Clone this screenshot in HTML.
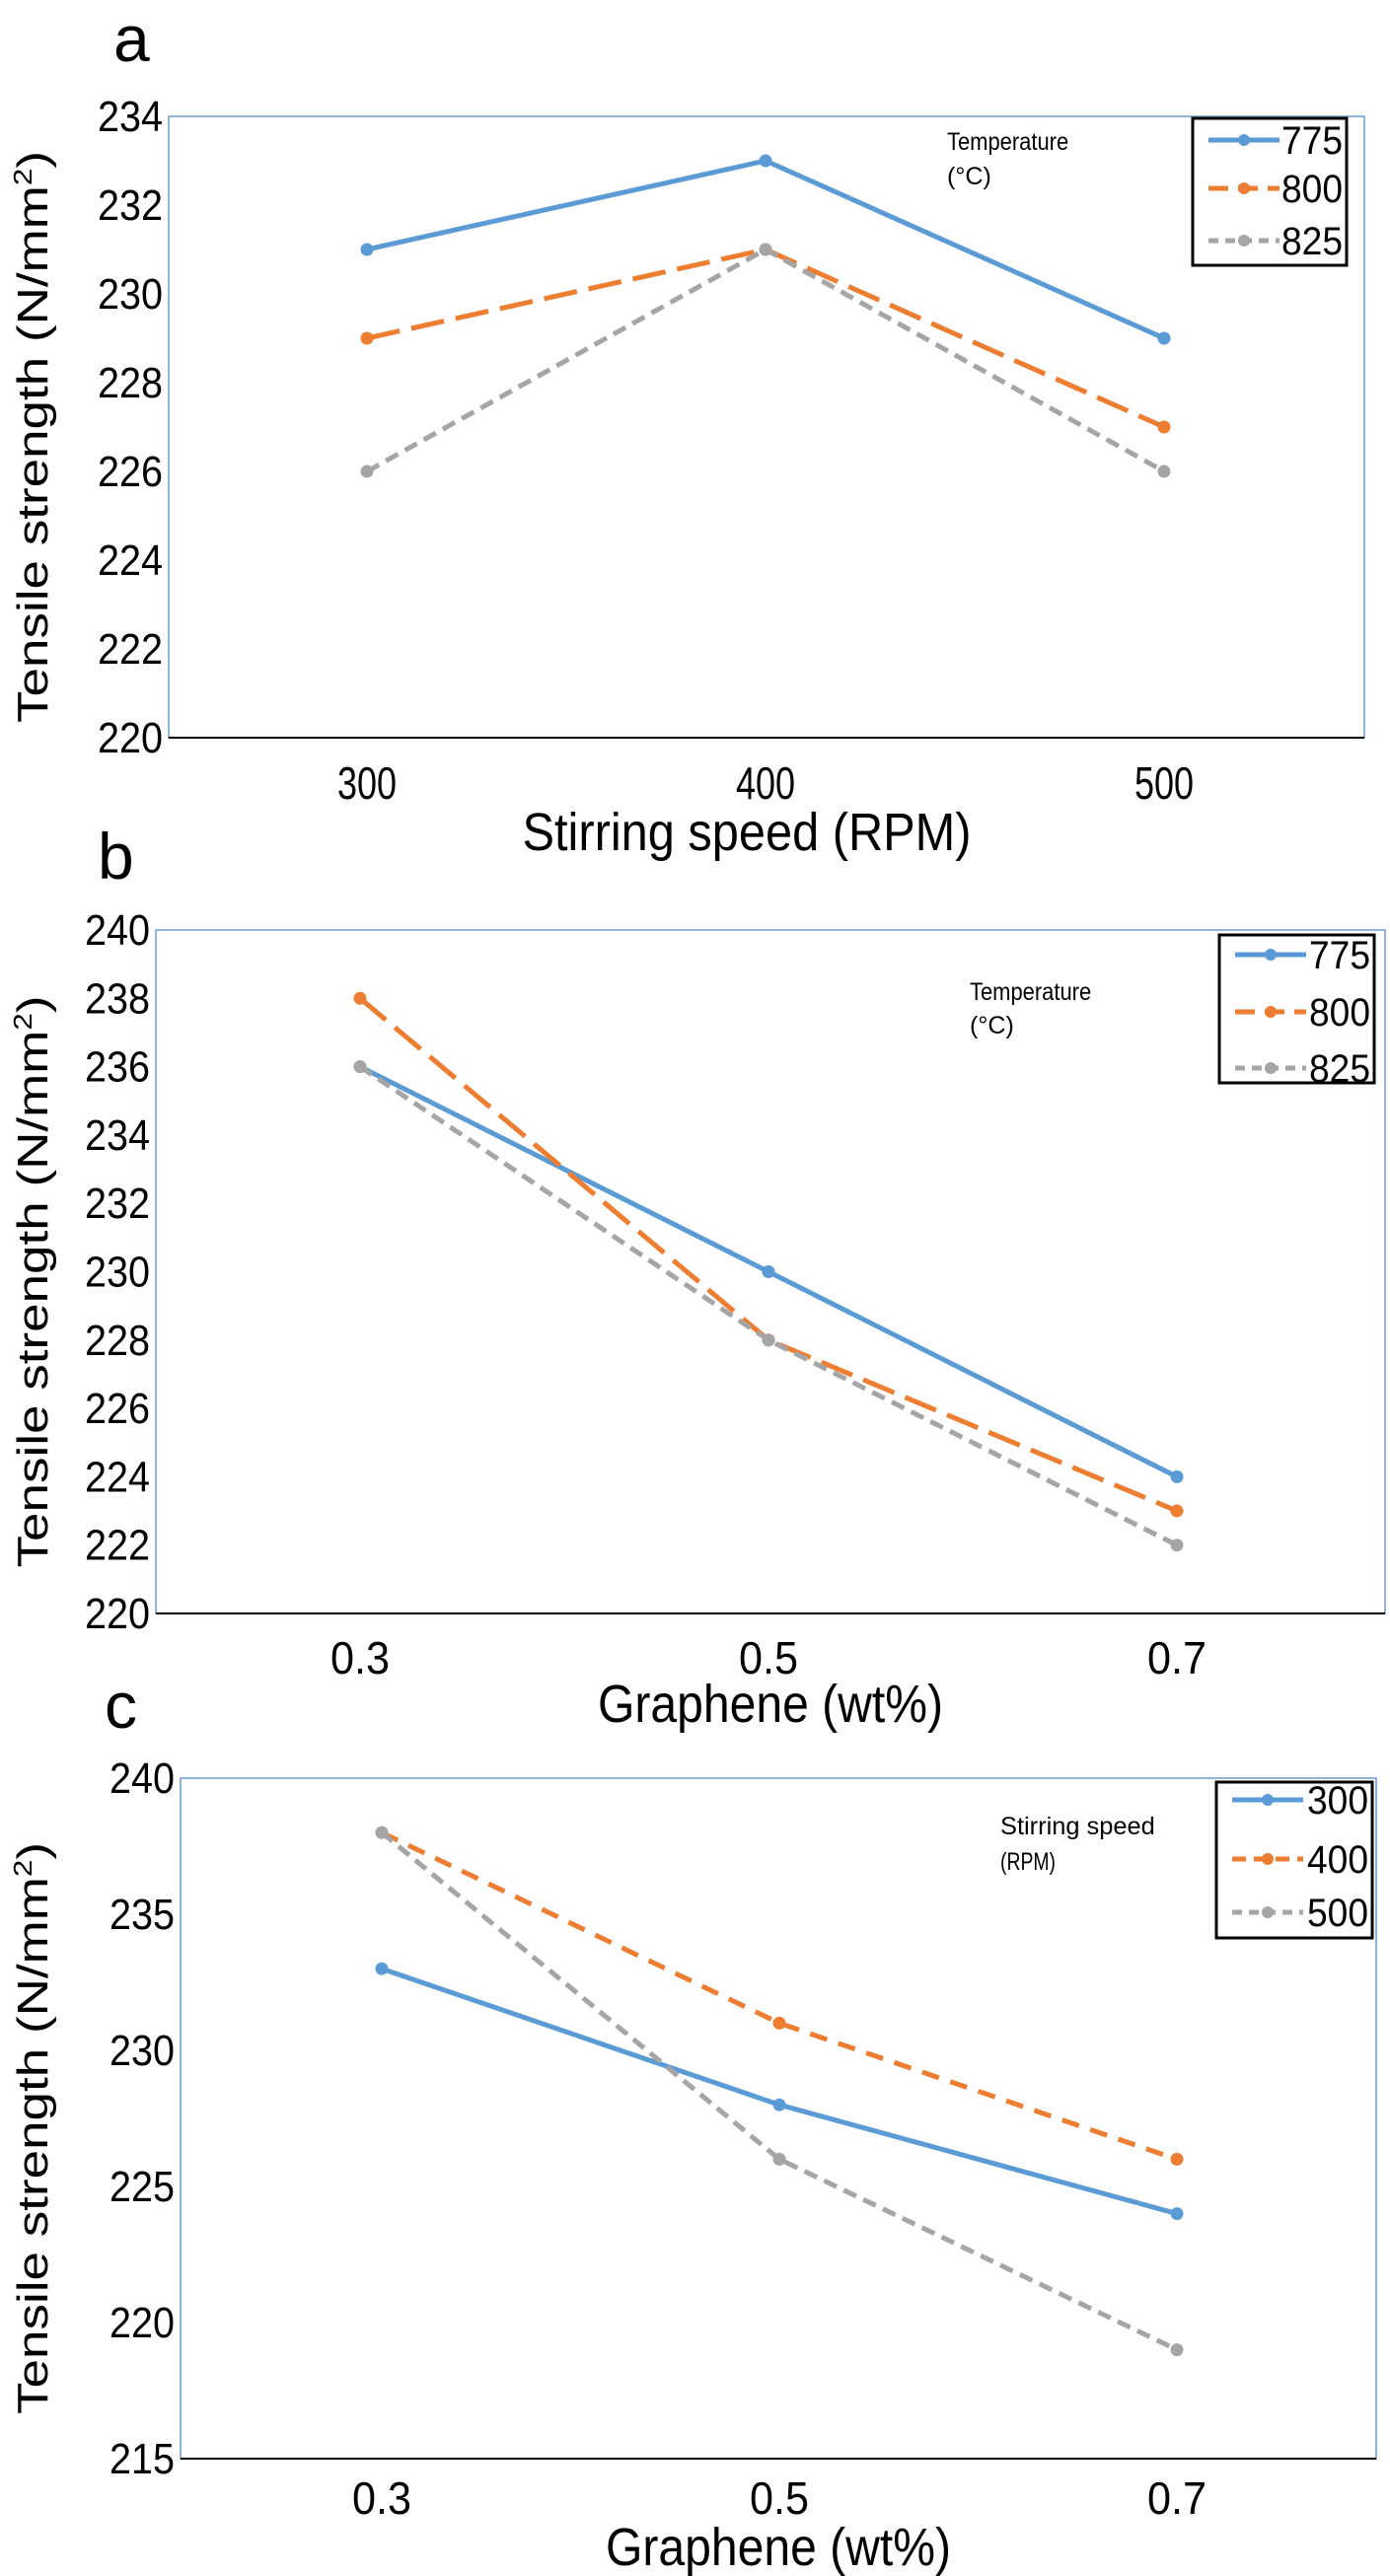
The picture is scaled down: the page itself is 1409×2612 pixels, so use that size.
<!DOCTYPE html>
<html><head><meta charset="utf-8"><style>
html,body{margin:0;padding:0;background:#fff;}
svg{display:block;font-family:"Liberation Sans",sans-serif;}
</style></head><body>
<svg id="fig" width="1409" height="2612" viewBox="0 0 1409 2612" xmlns="http://www.w3.org/2000/svg"></svg>
<script>
// Panel a data
const aCategories = ["300","400","500"];
const aSeries775 = [231,233,229];
const aSeries800 = [229,231,227];
const aSeries825 = [226,231,226];
const aTicks = [220,222,224,226,228,230,232,234];
const aLegend = ["775","800","825"];
// Panel b data
const bCategories = ["0.3","0.5","0.7"];
const bSeries775 = [236,230,224];
const bSeries800 = [238,228,223];
const bSeries825 = [236,228,222];
const bTicks = [220,222,224,226,228,230,232,234,236,238,240];
const bLegend = ["775","800","825"];
// Panel c data
const cCategories = ["0.3","0.5","0.7"];
const cSeries300 = [233,228,224];
const cSeries400 = [238,231,226];
const cSeries500 = [238,226,219];
const cTicks = [215,220,225,230,235,240];
const cLegend = ["300","400","500"];

const NS="http://www.w3.org/2000/svg";
const svg=document.getElementById('fig');
function mk(tag,attrs,parent){const e=document.createElementNS(NS,tag);for(const k in attrs)e.setAttribute(k,attrs[k]);(parent||svg).appendChild(e);return e;}
const colors=["#5b9bd5","#ed7d31","#a5a5a5"];

function panel(p){
  const g=mk('g',{});
  
  
  const yS=v=>p.bottom-(v-p.ymin)/(p.ymax-p.ymin)*(p.bottom-p.top);
  const xS=i=>p.xpos[0]+i*(p.xpos[1]-p.xpos[0]);
  const lab=mk('text',{x:p.labX,y:p.labY,'font-size':66},g);lab.textContent=p.id;
  
  
  const frame=mk('rect',{x:p.left,y:p.top,width:p.right-p.left,height:p.bottom-p.top,fill:'none',stroke:'#6a9ccf','stroke-width':1.5},g);
  
  
  const ax=mk('line',{x1:p.left,x2:p.right,y1:p.bottom,y2:p.bottom,stroke:'#000','stroke-width':2},g);
  
  
  p.ticks.forEach(t=>{
    const s=String(t);
    const tx=mk('text',{x:p.left-6,y:yS(t)+15,'font-size':44,'text-anchor':'end',textLength:s.length*22,lengthAdjust:'spacingAndGlyphs'},g);
    tx.textContent=s;
    
    
  });
  p.cats.forEach((c,i)=>{
    const tx=mk('text',{x:xS(i),y:p.tickY+16,'font-size':46,'text-anchor':'middle',textLength:c.length*20,lengthAdjust:'spacingAndGlyphs'},g);
    tx.textContent=c;
    
    
  });
  const xt=mk('text',{x:(p.left+p.right)/2+ (p.id==='a'?-20:0),y:p.titleY+18,'font-size':54,'text-anchor':'middle',textLength:p.xTitleLen,lengthAdjust:'spacingAndGlyphs'},g);
  xt.textContent=p.xTitle;
  
  
  const yc=(p.top+p.bottom)/2+10;
  const yt=mk('text',{x:0,y:0,'font-size':44,'text-anchor':'middle',transform:`translate(${p.yTitleX},${yc}) rotate(-90)`,textLength:580,lengthAdjust:'spacingAndGlyphs'},g);
  yt.innerHTML='Tensile strength (N/mm<tspan dy="-16" font-size="26">2</tspan><tspan dy="16">)</tspan>';
  
  
  p.series.forEach((vals,si)=>{
    const pts=vals.map((v,i)=>xS(i)+','+yS(v)).join(' ');
    const pl=mk('polyline',{points:pts,fill:'none',stroke:colors[si],'stroke-width':5,'stroke-dasharray':p.dashes[si]},g);
    
    
    vals.forEach((v,i)=>{
      const c=mk('circle',{cx:xS(i),cy:yS(v),r:6.5,fill:colors[si]},g);
      
      
    });
  });
  const L=p.leg;
  const lb=mk('rect',{x:L.x,y:L.y,width:L.w,height:L.h,fill:'#fff',stroke:'#000','stroke-width':3},g);
  
  
  p.legend.forEach((name,i)=>{
    const y=L.rows[i];
    const ln=mk('line',{x1:L.x+16,x2:L.x+88,y1:y,y2:y,stroke:colors[i],'stroke-width':5,'stroke-dasharray':p.legDash[i]},g);
    
    
    const dc=mk('circle',{cx:L.x+52,cy:y,r:6,fill:colors[i]},g);
    
    
    const t=mk('text',{x:L.x+L.w-4,y:y+14,'font-size':40,'text-anchor':'end',textLength:62,lengthAdjust:'spacingAndGlyphs'},g);
    t.textContent=name;
    
    
  });
  p.note.forEach((s,i)=>{
    const t=mk('text',{x:p.noteX,y:p.noteY[i]+8,'font-size':25,textLength:s.length*11.2,lengthAdjust:'spacingAndGlyphs'},g);
    t.textContent=s;
    
    
  });
}

panel({id:'a',labX:115,labY:62,left:171,right:1383,top:118,bottom:748,ymin:220,ymax:234,ticks:aTicks,
  cats:aCategories,xpos:[372,776],tickY:794,titleY:844,xTitle:'Stirring speed (RPM)',xTitleLen:455,yTitleX:48,
  series:[aSeries775,aSeries800,aSeries825],legend:aLegend,dashes:['none','34 12','14 8'],legDash:['none','20 10','10 7'],
  leg:{x:1209,y:120,w:156,h:149,rows:[142,191,244]},note:['Temperature','(°C)'],noteX:960,noteY:[144,179]});
panel({id:'b',labX:99,labY:891,left:158,right:1404,top:943,bottom:1636,ymin:220,ymax:240,ticks:bTicks,
  cats:bCategories,xpos:[365,779],tickY:1681,titleY:1728,xTitle:'Graphene (wt%)',xTitleLen:350,yTitleX:48,
  series:[bSeries775,bSeries800,bSeries825],legend:bLegend,dashes:['none','34 12','14 8'],legDash:['none','20 10','10 7'],
  leg:{x:1236,y:948,w:157,h:150,rows:[968,1026,1083]},note:['Temperature','(°C)'],noteX:983,noteY:[1006,1040]});
panel({id:'c',labX:106,labY:1752,left:183,right:1395,top:1803,bottom:2493,ymin:215,ymax:240,ticks:cTicks,
  cats:cCategories,xpos:[387,790],tickY:2533,titleY:2583,xTitle:'Graphene (wt%)',xTitleLen:350,yTitleX:48,
  series:[cSeries300,cSeries400,cSeries500],legend:cLegend,dashes:['none','18 12','14 8'],legDash:['none','14 8','10 7'],
  leg:{x:1233,y:1807,w:158,h:158,rows:[1825,1885,1939]},note:['Stirring speed','(RPM)'],noteX:1014,noteY:[1852,1888]});
</script>
</body></html>
